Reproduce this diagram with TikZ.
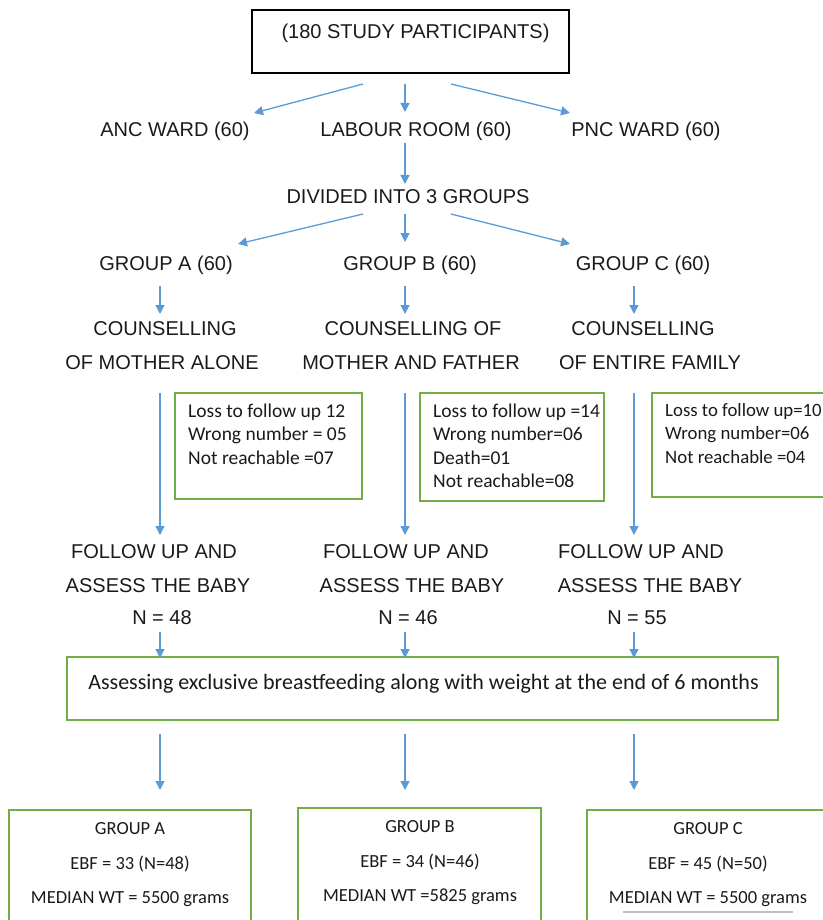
\documentclass[tikz,border=0pt]{standalone}
\usepackage{fontspec}
\setmainfont{Liberation Sans}
\newfontfamily\calfont{Carlito}
\usetikzlibrary{arrows.meta}
\definecolor{arrblue}{HTML}{5B9BD5}
\definecolor{boxgreen}{HTML}{70AD47}
\definecolor{txt}{HTML}{1A1A1A}
\begin{document}
\begin{tikzpicture}[x=1pt,y=-1pt,
  arr/.style={draw=arrblue,line width=1.3pt,-{Triangle[length=9pt,width=9pt]}},
  caps/.style={inner sep=0pt,text=txt,font=\fontsize{20}{24}\selectfont},
  gbox/.style={draw=boxgreen,line width=2pt,inner sep=0pt},
  loss/.style={inner sep=0pt,anchor=west,align=left,text=txt,font=\calfont\fontsize{19.5}{23.5}\selectfont},
  res/.style={inner sep=0pt,text=txt,font=\calfont\fontsize{18.5}{22}\selectfont}]
\useasboundingbox (0,0) rectangle (822,920);

% top box
\node[draw=black,line width=1.8pt,minimum width=317pt,minimum height=63pt,inner sep=0pt] (topbox) at (410.5,41.5) {};
\node[caps] (toptext) at (415.5,33) {(180 STUDY PARTICIPANTS)};

% row 2
\node[caps] (anc) at (175,131) {ANC WARD (60)};
\node[caps] (labour) at (416,131) {LABOUR ROOM (60)};
\node[caps] (pnc) at (646,131) {PNC WARD (60)};

\node[caps] (divided) at (408,197) {DIVIDED INTO 3 GROUPS};

\node[caps] (ga) at (166,265) {GROUP A (60)};
\node[caps] (gb) at (410,265) {GROUP B (60)};
\node[caps] (gc) at (643,265) {GROUP C (60)};

\node[caps] (ca1) at (165,329) {COUNSELLING};
\node[caps] (ca2) at (162,363) {OF MOTHER ALONE};
\node[caps] (cb1) at (413,329) {COUNSELLING OF};
\node[caps] (cb2) at (411,363) {MOTHER AND FATHER};
\node[caps] (cc1) at (643,329) {COUNSELLING};
\node[caps] (cc2) at (650,363) {OF ENTIRE FAMILY};

% loss boxes
\node[gbox,minimum width=187pt,minimum height=106pt] (lossa) at (268.5,446) {};
\node[loss] (lossatext) at (188,434) {Loss to follow up 12\\Wrong number = 05\\Not reachable =07};
\node[gbox,minimum width=184pt,minimum height=108pt] (lossb) at (512,447) {};
\node[loss] (lossbtext) at (433,446) {Loss to follow up =14\\Wrong number=06\\Death=01\\Not reachable=08};
\node[gbox,minimum width=188pt,minimum height=104pt] (lossc) at (746,445) {};
\node[loss,font=\calfont\fontsize{18.8}{23.5}\selectfont] (lossctext) at (665,433.5) {Loss to follow up=10\\Wrong number=06\\Not reachable =04};

% follow up
\node[caps] (fa1) at (154,552) {FOLLOW UP AND};
\node[caps] (fa2) at (158,586) {ASSESS THE BABY};
\node[caps] (fa3) at (162,618) {N = 48};
\node[caps] (fb1) at (406,552) {FOLLOW UP AND};
\node[caps] (fb2) at (412,586) {ASSESS THE BABY};
\node[caps] (fb3) at (408,618) {N = 46};
\node[caps] (fc1) at (641,552) {FOLLOW UP AND};
\node[caps] (fc2) at (650,586) {ASSESS THE BABY};
\node[caps] (fc3) at (637,618) {N = 55};

% assessing box
\node[gbox,minimum width=711pt,minimum height=63pt] (assess) at (422.5,688.5) {};
\node[inner sep=0pt,text=txt,font=\calfont\fontsize{22}{26}\selectfont] (assesstext) at (423.5,684) {Assessing exclusive breastfeeding along with weight at the end of 6 months};

% result boxes
\node[gbox,minimum width=242pt,minimum height=115pt] (ra) at (130,867.5) {};
\node[res] (ra1) at (130,829) {GROUP A};
\node[res] (ra2) at (130,864) {EBF = 33 (N=48)};
\node[res] (ra3) at (130,899) {MEDIAN WT = 5500 grams};
\node[gbox,minimum width=243pt,minimum height=117pt] (rb) at (419.5,866.5) {};
\node[res] (rb1) at (420,827) {GROUP B};
\node[res] (rb2) at (420,862) {EBF = 34 (N=46)};
\node[res] (rb3) at (420,897) {MEDIAN WT =5825 grams};
\node[gbox,minimum width=243pt,minimum height=115pt] (rc) at (708.5,867.5) {};
\node[res] (rc1) at (708,829) {GROUP C};
\node[res] (rc2) at (708,864) {EBF = 45 (N=50)};
\node[res] (rc3) at (708,899) {MEDIAN WT = 5500 grams};
\coordinate (gl1) at (623,912);
\coordinate (gl2) at (793,912);
\draw[draw=black!25,line width=1.5pt] (gl1) -- (gl2);

% arrow end points
\coordinate (a1s) at (363,84);  \coordinate (a1e) at (254,113);
\coordinate (a2s) at (405,84);  \coordinate (a2e) at (405,112);
\coordinate (a3s) at (451,84);  \coordinate (a3e) at (570,113);
\coordinate (a4s) at (405,143); \coordinate (a4e) at (405,184);
\coordinate (a5s) at (363,214); \coordinate (a5e) at (238,244);
\coordinate (a6s) at (405,214); \coordinate (a6e) at (405,242);
\coordinate (a7s) at (451,214); \coordinate (a7e) at (570,244);
\foreach \n/\x in {A/160,B/405,C/634}{
  \coordinate (g\n s) at (\x,286);  \coordinate (g\n e) at (\x,314);
  \coordinate (l\n s) at (\x,393);  \coordinate (l\n e) at (\x,535);
  \coordinate (f\n s) at (\x,632);  \coordinate (f\n e) at (\x,658);
  \coordinate (r\n s) at (\x,734);  \coordinate (r\n e) at (\x,790);
}
\draw[arr] (a1s) -- (a1e);
\draw[arr] (a2s) -- (a2e);
\draw[arr] (a3s) -- (a3e);
\draw[arr] (a4s) -- (a4e);
\draw[arr] (a5s) -- (a5e);
\draw[arr] (a6s) -- (a6e);
\draw[arr] (a7s) -- (a7e);
\foreach \n in {A,B,C}{
  \draw[arr] (g\n s) -- (g\n e);
  \draw[arr] (l\n s) -- (l\n e);
  \draw[arr] (f\n s) -- (f\n e);
  \draw[arr] (r\n s) -- (r\n e);
}
\end{tikzpicture}
\end{document}
